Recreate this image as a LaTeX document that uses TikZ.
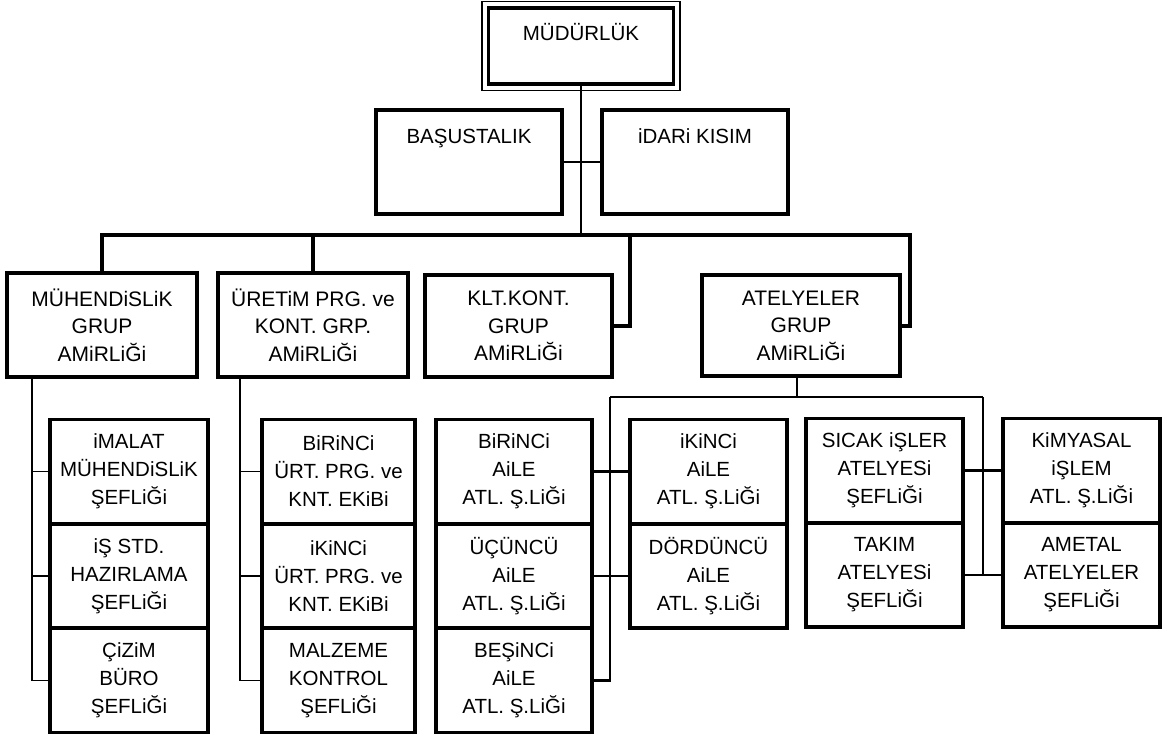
\documentclass[tikz,border=0pt]{standalone}
\usepackage{fontspec}
\setmainfont{Liberation Sans}
\begin{document}
\begin{tikzpicture}[x=1pt,y=-1pt,
  box/.style={draw,line width=3.6pt,inner sep=0pt,align=center,
    font=\fontsize{21}{27.5}\selectfont},
  unit/.style={box,minimum height=104pt,font=\fontsize{20.5}{28}\selectfont},
  wire/.style={line width=1.8pt},
  link/.style={line width=2.8pt},
  bus/.style={line width=4pt}]%
% organisation chart, coordinates in px of the scanned sheet
\useasboundingbox (0,0) rectangle (1167,736);
\node[box,minimum width=185pt,text height=32pt,text depth=44pt,font=\fontsize{20.5}{25}\selectfont] (mud) at (581,46) {MÜDÜRLÜK};
\draw[line width=1.5pt] ([shift={(-4.5pt,4.5pt)}]mud.north west)
 rectangle ([shift={(4.5pt,-4.5pt)}]mud.south east);
\node[box,minimum width=186pt,text height=33pt,text depth=71pt,font=\fontsize{20.5}{25}\selectfont] (bas) at (469,162) {BAŞUSTALIK};
\node[box,minimum width=186pt,text height=33pt,text depth=71pt,font=\fontsize{20.5}{25}\selectfont] (idari) at (695,162) {iDARi KISIM};
\node[box,minimum width=190pt,minimum height=104pt] (muh) at (102,325) {MÜHENDiSLiK\\GRUP\\AMiRLiĞi};
\node[box,minimum width=190pt,minimum height=104pt] (uret) at (313,325) {ÜRETiM PRG. ve\\KONT. GRP.\\AMiRLiĞi};
\node[box,minimum width=187pt,minimum height=102pt] (klt) at (518.5,326) {KLT.KONT.\\GRUP\\AMiRLiĞi};
\node[box,minimum width=198pt,minimum height=101pt] (atl) at (801,325.5) {ATELYELER\\GRUP\\AMiRLiĞi};
\coordinate (busk) at (630,235);
\coordinate (busr) at (910,235);
\draw[wire] (mud.south) -- (mud.south |- busr);
\draw[wire] (bas.east) -- (idari.west);
\draw[bus] (muh.north) |- (busr) |- (atl.east);
\draw[bus] (uret.north) -- (uret.north |- busr);
\draw[bus] (busk) |- (klt.east);
% muhendislik
\node[unit,minimum width=158pt] (imalat) at (129,471.5) {iMALAT\\MÜHENDiSLiK\\ŞEFLiĞi};
\node[unit,minimum width=158pt] (isstd) at (129,576) {iŞ STD.\\HAZIRLAMA\\ŞEFLiĞi};
\node[unit,minimum width=158pt] (cizim) at (129,680.5) {ÇiZiM\\BÜRO\\ŞEFLiĞi};
\draw[wire] ([xshift=-70pt]muh.south) |- (cizim.west);
\draw[wire] ([xshift=-70pt]muh.south) |- (imalat.west);
\draw[wire] ([xshift=-70pt]muh.south) |- (isstd.west);
% uretim
\node[unit,minimum width=153pt] (urt1) at (338.5,471.5) {BiRiNCi\\ÜRT. PRG. ve\\KNT. EKiBi};
\node[unit,minimum width=153pt] (urt2) at (338.5,576) {iKiNCi\\ÜRT. PRG. ve\\KNT. EKiBi};
\node[unit,minimum width=153pt] (malz) at (338.5,680.5) {MALZEME\\KONTROL\\ŞEFLiĞi};
\draw[wire] ([xshift=-73pt]uret.south) |- (malz.west);
\draw[wire] ([xshift=-73pt]uret.south) |- (urt1.west);
\draw[wire] ([xshift=-73pt]uret.south) |- (urt2.west);
% atelyeler
\node[unit,minimum width=156pt] (fam1) at (514,471.5) {BiRiNCi\\AiLE\\ATL. Ş.LiĞi};
\node[unit,minimum width=156pt] (fam3) at (514,576) {ÜÇÜNCÜ\\AiLE\\ATL. Ş.LiĞi};
\node[unit,minimum width=156pt] (fam5) at (514,680.5) {BEŞiNCi\\AiLE\\ATL. Ş.LiĞi};
\node[unit,minimum width=157pt] (fam2) at (708.5,471.5) {iKiNCi\\AiLE\\ATL. Ş.LiĞi};
\node[unit,minimum width=157pt] (fam4) at (708.5,576) {DÖRDÜNCÜ\\AiLE\\ATL. Ş.LiĞi};
\node[unit,minimum width=157pt] (sicak) at (884.5,470.5) {SICAK iŞLER\\ATELYESi\\ŞEFLiĞi};
\node[unit,minimum width=157pt] (takim) at (884.5,575) {TAKIM\\ATELYESi\\ŞEFLiĞi};
\node[unit,minimum width=157pt] (kimya) at (1081.5,470.5) {KiMYASAL\\iŞLEM\\ATL. Ş.LiĞi};
\node[unit,minimum width=157pt] (ametal) at (1081.5,575) {AMETAL\\ATELYELER\\ŞEFLiĞi};
\coordinate (famhub) at (610,397);
\coordinate (shophub) at (983,397);
\draw[link] ([xshift=-4pt]atl.south) -- ([xshift=-4pt]atl.south |- famhub);
\draw[link] (famhub) -- (shophub);
\draw[link] (famhub) |- (fam5.east);
\draw[link] (fam1.east) -- (fam2.west);
\draw[link] (fam3.east) -- (fam4.west);
\draw[link] (shophub) -- (shophub |- takim.east);
\draw[link] (sicak.east) -- (kimya.west);
\draw[link] (takim.east) -- (ametal.west);
\end{tikzpicture}
\end{document}
